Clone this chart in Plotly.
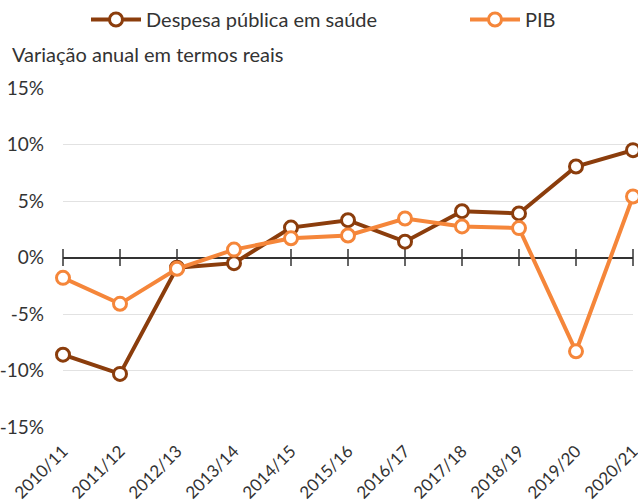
import plotly.graph_objects as go

categories = ["2010/11", "2011/12", "2012/13", "2013/14", "2014/15", "2015/16",
              "2016/17", "2017/18", "2018/19", "2019/20", "2020/21"]
despesa = [-8.6, -10.3, -0.9, -0.5, 2.65, 3.3, 1.4, 4.1, 3.9, 8.05, 9.5]
pib = [-1.8, -4.1, -1.0, 0.7, 1.7, 1.95, 3.45, 2.75, 2.6, -8.3, 5.4]
y_ticks = [-15, -10, -5, 0, 5, 10, 15]
y_ticklabels = ["-15%", "-10%", "-5%", "0%", "5%", "10%", "15%"]

FONT = "Lato, Open Sans, sans-serif"
TXT = "#333333"
BROWN = "#8B3D0C"
ORANGE = "#F5863A"

W, H = 638, 502

fig = go.Figure()

# tick marks crossing the zero line
fig.add_trace(go.Scatter(
    x=categories, y=[0] * len(categories), mode="markers",
    marker=dict(symbol="line-ns-open", size=12, color=TXT, line=dict(width=1.5, color=TXT)),
    showlegend=False, hoverinfo="skip", cliponaxis=False))

fig.add_trace(go.Scatter(
    x=categories, y=despesa, mode="lines+markers", name="Despesa pública em saúde",
    line=dict(color=BROWN, width=4),
    marker=dict(symbol="circle", size=13, color="white", line=dict(color=BROWN, width=3)),
    cliponaxis=False, legend="legend"))
fig.add_trace(go.Scatter(
    x=categories, y=pib, mode="lines+markers", name="PIB",
    line=dict(color=ORANGE, width=4),
    marker=dict(symbol="circle", size=13, color="white", line=dict(color=ORANGE, width=3)),
    cliponaxis=False, legend="legend2"))

leg_common = dict(orientation="h", xref="container", yref="container", yanchor="top",
                  y=1.0, font=dict(size=20, color=TXT, family=FONT), itemwidth=50,
                  bgcolor="rgba(0,0,0,0)")

fig.update_layout(
    width=W, height=H,
    margin=dict(l=63, r=5, t=88, b=75),
    paper_bgcolor="white", plot_bgcolor="white",
    font=dict(family=FONT, size=19, color=TXT),
    legend=dict(x=86 / W, xanchor="left", **leg_common),
    legend2=dict(x=465 / W, xanchor="left", **leg_common),
    annotations=[dict(text="Variação anual em termos reais", xref="paper", yref="paper",
                      x=-53 / 570, y=1.0, yshift=20, xanchor="left", yanchor="bottom",
                      showarrow=False, font=dict(size=20, color=TXT))],
    showlegend=True,
)
fig.update_xaxes(type="category", range=[0, len(categories) - 1], showgrid=False,
                 showline=False, ticks="", tickangle=-45, tickfont=dict(size=17, color=TXT),
                 ticklabelstandoff=10, automargin=False)
fig.update_yaxes(range=[-15, 15], tickvals=y_ticks, ticktext=y_ticklabels,
                 showgrid=True, gridcolor="#e2e2e2", gridwidth=1,
                 zeroline=True, zerolinecolor=TXT, zerolinewidth=1.5,
                 showline=False, ticks="", tickfont=dict(size=19, color=TXT),
                 ticklabelstandoff=18, automargin=False)

fig.write_html("out.html", config={"displayModeBar": False},
               post_script="document.body.style.margin='0';")
